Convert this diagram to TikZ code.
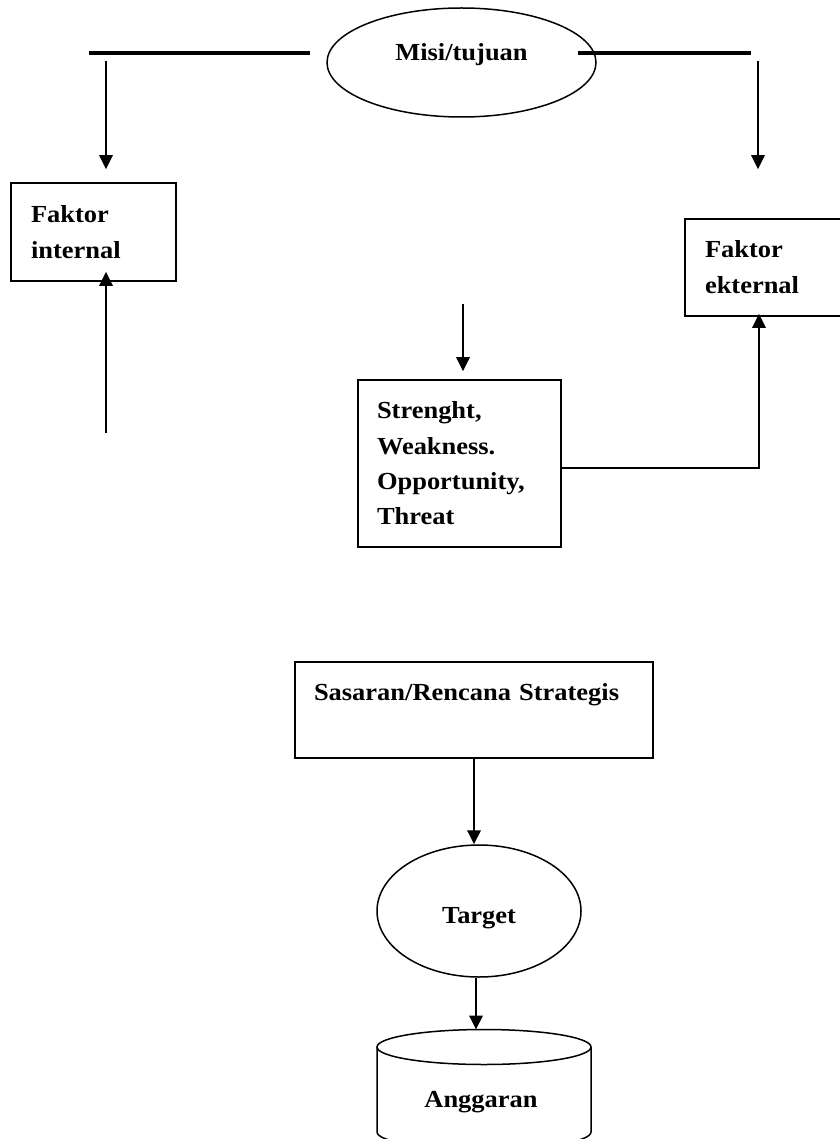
\documentclass[tikz,border=0pt]{standalone}
\usepackage{fontspec}
\setmainfont{Liberation Serif}[FakeStretch=1.08]
\usetikzlibrary{arrows.meta,shapes.geometric}
\begin{document}
\begin{tikzpicture}[x=1pt,y=-1pt,
  txt/.style={font=\fontsize{24.5}{36}\selectfont\bfseries},
  box/.style={txt,draw,line width=1.7pt,rectangle,align=left,inner ysep=0pt},
  oval/.style={txt,draw,line width=1.5pt,ellipse,inner sep=0pt,text height=0pt,text depth=0pt},
  link/.style={line width=1.9pt,-{Triangle[length=14pt,width=13.5pt]}},
  bar/.style={line width=4pt}]
\useasboundingbox (0,0) rectangle (839,1139);

% nodes
\node[oval,minimum width=269pt,minimum height=109pt] (misi) at (461.5,62.5) {\raisebox{1.5pt}{Misi/tujuan}};
\node[box,minimum width=165pt,minimum height=98pt,inner xsep=20pt,text width=125pt] (fi) at (93.5,232) {Faktor\\internal};
\node[box,minimum width=160pt,minimum height=97pt,inner xsep=20pt,text width=120pt] (fe) at (765,267.5) {Faktor\\ekternal};
\node[box,font=\fontsize{24.5}{35.3}\selectfont\bfseries,minimum height=167pt,inner xsep=19pt,text width=165pt] (swot) at (459.5,463.5) {Strenght,\\Weakness.\\Opportunity,\\Threat};
\node[box,minimum height=96pt,inner xsep=19pt,text width=320pt] (sasaran) at (474,710) {Sasaran/Rencana Strategis\\ \mbox{}};
\node[oval,minimum width=204pt,minimum height=132pt] (target) at (479,911) {\raisebox{-12pt}{Target}};

% database cylinder
\node[txt,inner sep=0pt] (anggaran) at (481,1102.5) {Anggaran};
\draw[line width=1.5pt] (484,1047) ellipse [x radius=107, y radius=17.5];
\draw[line width=1.5pt] (377,1047) -- (377,1132) arc[start angle=180,end angle=0,x radius=107,y radius=17.5] -- (591,1047);
\coordinate (cyltop) at (476,1029.5);

% free ends
\coordinate (barL1) at (89,52.7);
\coordinate (barL2) at (310,52.7);
\coordinate (barR1) at (578,52.7);
\coordinate (barR2) at (751,52.7);
\coordinate (dropL) at (106,61);
\coordinate (dropR) at (758,61);
\coordinate (riseL) at (106,433);
\coordinate (dropS) at (463,304);

% connectors
\draw[bar] (barL1) -- (barL2);
\draw[bar] (barR1) -- (barR2);
\draw[link,shorten >=13pt] (dropL) -- (dropL |- fi.north);
\draw[link,shorten >=49pt] (dropR) -- (dropR |- fe.north);
\draw[link,shorten >=-10pt] (riseL) -- (riseL |- fi.south);
\draw[link,shorten >=8pt] (dropS) -- (dropS |- swot.north);
\draw[link,shorten >=-3pt] ([yshift=-4.5pt]swot.east) -| ([xshift=-6pt]fe.south);
\draw[link] (sasaran.south) -- (sasaran.south |- target.north);
\draw[link] ([xshift=-3pt]target.south) -- (cyltop);
\end{tikzpicture}
\end{document}
